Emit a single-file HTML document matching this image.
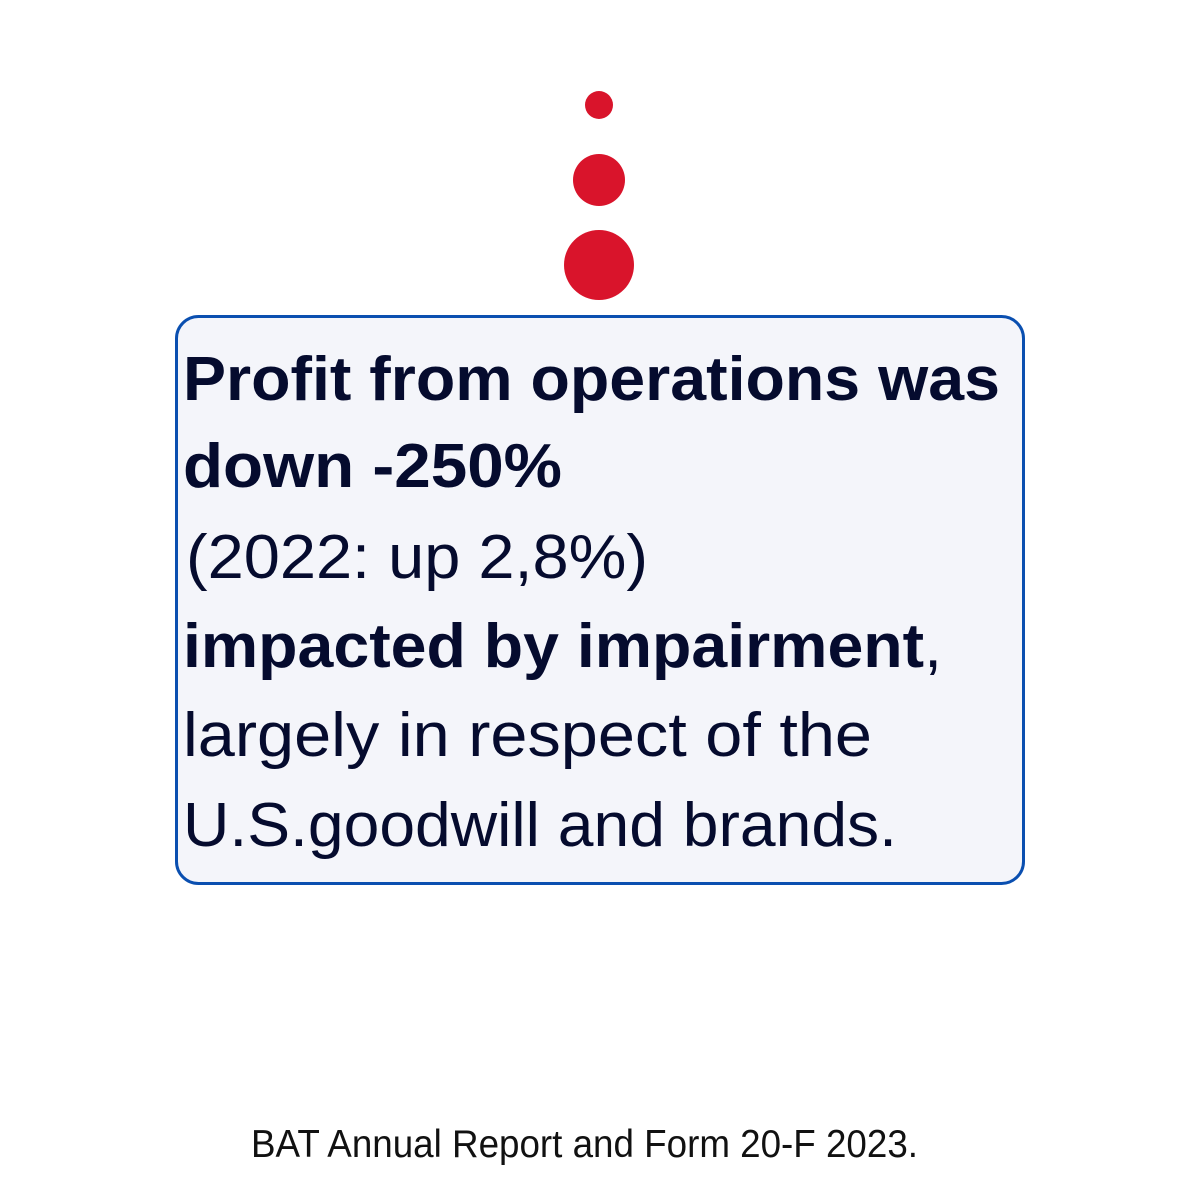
<!DOCTYPE html>
<html><head><meta charset="utf-8"><style>
html,body{margin:0;padding:0;background:#fff;}
svg{display:block;}
</style></head><body>
<svg width="1200" height="1200" viewBox="0 0 1200 1200" xmlns="http://www.w3.org/2000/svg">
<rect width="1200" height="1200" fill="#fff"/>
<circle cx="599" cy="105" r="14" fill="#d9142b"/>
<circle cx="599" cy="180" r="26" fill="#d9142b"/>
<circle cx="599" cy="265" r="35" fill="#d9142b"/>
<rect x="176.5" y="316.5" width="847" height="567" rx="22" ry="22" fill="#f4f5fa" stroke="#0a4fb0" stroke-width="3"/>
<g font-family="Liberation Sans, sans-serif" font-size="62" fill="#050b2e">
<text x="183" y="400" font-weight="bold" textLength="817" lengthAdjust="spacingAndGlyphs">Profit from operations was</text>
<text x="183" y="487" font-weight="bold" textLength="379" lengthAdjust="spacingAndGlyphs">down -250%</text>
<text x="186" y="578" textLength="462" lengthAdjust="spacingAndGlyphs">(2022: up 2,8%)</text>
<text x="183" y="667" textLength="759" lengthAdjust="spacingAndGlyphs"><tspan font-weight="bold">impacted by impairment</tspan>,</text>
<text x="183" y="756" textLength="689" lengthAdjust="spacingAndGlyphs">largely in respect of the</text>
<text x="183" y="846" textLength="714" lengthAdjust="spacingAndGlyphs">U.S.goodwill and brands.</text>
</g>
<text x="251" y="1157" font-family="Liberation Sans, sans-serif" font-size="39" fill="#111" textLength="667" lengthAdjust="spacingAndGlyphs">BAT Annual Report and Form 20-F 2023.</text>
</svg>
</body></html>
